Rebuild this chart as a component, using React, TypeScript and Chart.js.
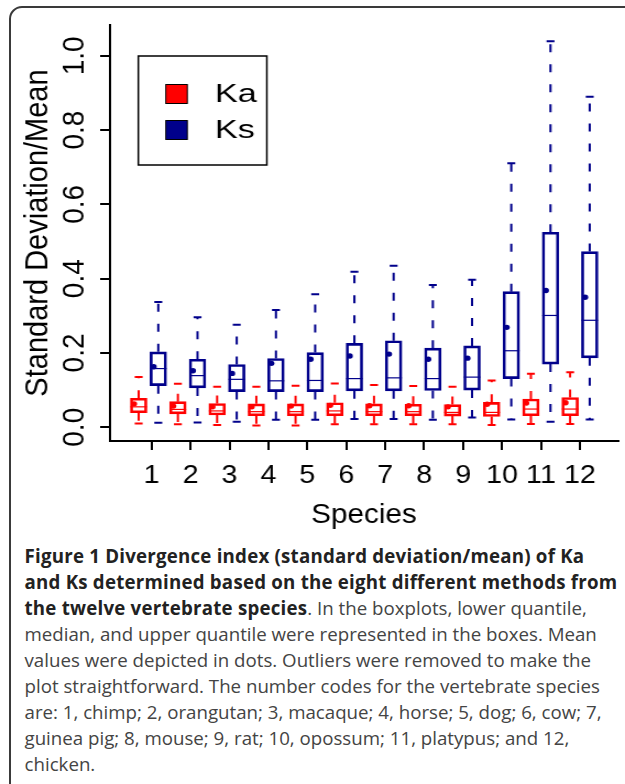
import React, { useEffect, useRef } from "react";
import { Chart, registerables } from "chart.js";

Chart.register(...registerables);

// ---------------- data ----------------
const species = ["1", "2", "3", "4", "5", "6", "7", "8", "9", "10", "11", "12"];
const yTicks = [0, 0.2, 0.4, 0.6, 0.8, 1.0];

const kaLow = [0.010, 0.008, 0.006, 0.005, 0.005, 0.008, 0.008, 0.008, 0.008, 0.006, 0.009, 0.009];
const kaQ1 = [0.039, 0.036, 0.033, 0.031, 0.031, 0.031, 0.031, 0.031, 0.030, 0.029, 0.031, 0.031];
const kaMedian = [0.055, 0.048, 0.044, 0.042, 0.042, 0.044, 0.042, 0.042, 0.040, 0.040, 0.049, 0.049];
const kaQ3 = [0.078, 0.069, 0.064, 0.063, 0.063, 0.066, 0.063, 0.062, 0.061, 0.067, 0.076, 0.080];
const kaHigh = [0.135, 0.117, 0.109, 0.109, 0.112, 0.118, 0.114, 0.111, 0.109, 0.126, 0.144, 0.148];
const kaMean = [0.063, 0.057, 0.055, 0.055, 0.057, 0.059, 0.058, 0.058, 0.055, 0.062, 0.065, 0.066];

const ksLow = [0.012, 0.013, 0.015, 0.020, 0.020, 0.022, 0.022, 0.020, 0.026, 0.021, 0.015, 0.021];
const ksQ1 = [0.112, 0.106, 0.096, 0.096, 0.096, 0.098, 0.098, 0.099, 0.100, 0.131, 0.170, 0.187];
const ksMedian = [0.158, 0.139, 0.129, 0.125, 0.126, 0.131, 0.133, 0.131, 0.135, 0.206, 0.301, 0.288];
const ksQ3 = [0.203, 0.183, 0.169, 0.185, 0.201, 0.226, 0.233, 0.213, 0.219, 0.365, 0.525, 0.473];
const ksHigh = [0.337, 0.296, 0.276, 0.316, 0.358, 0.419, 0.435, 0.383, 0.397, 0.711, 1.039, 0.890];
const ksMean = [0.163, 0.152, 0.145, 0.172, 0.183, 0.192, 0.197, 0.183, 0.186, 0.269, 0.368, 0.350];

const captionLines: { bold?: string; text?: string }[] = [
  { bold: "Figure 1 Divergence index (standard deviation/mean) of Ka" },
  { bold: "and Ks determined based on the eight different methods from" },
  { bold: "the twelve vertebrate species", text: ". In the boxplots, lower quantile," },
  { text: "median, and upper quantile were represented in the boxes. Mean" },
  { text: "values were depicted in dots. Outliers were removed to make the" },
  { text: "plot straightforward. The number codes for the vertebrate species" },
  { text: "are: 1, chimp; 2, orangutan; 3, macaque; 4, horse; 5, dog; 6, cow; 7," },
  { text: "guinea pig; 8, mouse; 9, rat; 10, opossum; 11, platypus; and 12," },
  { text: "chicken." },
];

// ---------------- style / layout ----------------
const KA_COLOR = "#FF0000";
const KS_COLOR = "#00008B";
const FONT = "'Liberation Sans', Arial, Helvetica, sans-serif";
const CANVAS_W = 568; // internal width, stretched to 625 css px
const CANVAS_H = 540;
const BOX_PX = 15;
const STAPLE_HALF = 3.6;
const MEAN_SHIFT = -0.23;
const TICK_START = 1.663;
const TICK_STEP = 1.985;

const series = [
  { label: "Ka", color: KA_COLOR, low: kaLow, q1: kaQ1, med: kaMedian, q3: kaQ3, high: kaHigh, mean: kaMean },
  { label: "Ks", color: KS_COLOR, low: ksLow, q1: ksQ1, med: ksMedian, q3: ksQ3, high: ksHigh, mean: ksMean },
];
const boxPos = (s: number, i: number) => 2 * i + 1 + s;

const boxPlugin = {
  id: "boxWhiskers",
  beforeDatasetsDraw(chart: any) {
    const { ctx } = chart;
    const x = chart.scales.x;
    const y = chart.scales.y;
    ctx.save();
    series.forEach((s, si) => {
      ctx.strokeStyle = s.color;
      s.q1.forEach((_q: number, i: number) => {
        const px = x.getPixelForValue(boxPos(si, i));
        const yLow = y.getPixelForValue(s.low[i]);
        const yQ1 = y.getPixelForValue(s.q1[i]);
        const yMed = y.getPixelForValue(s.med[i]);
        const yQ3 = y.getPixelForValue(s.q3[i]);
        const yHigh = y.getPixelForValue(s.high[i]);
        // whiskers
        ctx.lineWidth = 2;
        ctx.lineCap = "butt";
        ctx.setLineDash([8, 12]);
        ctx.beginPath();
        ctx.moveTo(px, yQ3);
        ctx.lineTo(px, yHigh);
        ctx.moveTo(px, yQ1);
        ctx.lineTo(px, yLow);
        ctx.stroke();
        // staples
        ctx.setLineDash([]);
        ctx.beginPath();
        ctx.moveTo(px - STAPLE_HALF, yHigh);
        ctx.lineTo(px + STAPLE_HALF, yHigh);
        ctx.moveTo(px - STAPLE_HALF, yLow);
        ctx.lineTo(px + STAPLE_HALF, yLow);
        ctx.stroke();
        // median
        ctx.lineWidth = 1.2;
        ctx.beginPath();
        ctx.moveTo(px - BOX_PX / 2, yMed);
        ctx.lineTo(px + BOX_PX / 2, yMed);
        ctx.stroke();
      });
    });
    ctx.restore();
  },
  afterDraw(chart: any) {
    const { ctx, chartArea } = chart;
    const y = chart.scales.y;
    ctx.save();
    // rotated y tick labels (R style)
    ctx.fillStyle = "#000";
    ctx.font = `28px ${FONT}`;
    ctx.textAlign = "center";
    ctx.textBaseline = "middle";
    yTicks.forEach((v) => {
      const py = y.getPixelForValue(v);
      ctx.save();
      ctx.translate(68.5, py);
      ctx.rotate(-Math.PI / 2);
      ctx.fillText(v.toFixed(1), 0, 0);
      ctx.restore();
    });
    // legend box
    const lx = chartArea.left + 25.7;
    const ly = chartArea.top + 31;
    const lw = 116.8;
    const lh = 109;
    ctx.lineWidth = 1.5;
    ctx.strokeStyle = "#000";
    ctx.strokeRect(lx, ly, lw, lh);
    const rows = [ly + 38, ly + 74];
    series.forEach((s, si) => {
      const ry = rows[si];
      ctx.fillStyle = s.color;
      ctx.fillRect(lx + 25, ry - 9.5, 19.5, 19);
      ctx.lineWidth = 1;
      ctx.strokeStyle = "#000";
      ctx.strokeRect(lx + 25, ry - 9.5, 19.5, 19);
      ctx.save();
      ctx.translate(lx + 69.5, ry + 1.5);
      ctx.scale(1.25, 1);
      ctx.fillStyle = "#000";
      ctx.font = `25px ${FONT}`;
      ctx.textAlign = "left";
      ctx.textBaseline = "middle";
      ctx.fillText(s.label, 0, 0);
      ctx.restore();
    });
    ctx.restore();
  },
};

function buildConfig(): any {
  return {
    type: "bar",
    data: {
      datasets: [
        ...series.map((s, si) => ({
          type: "scatter",
          label: s.label + " mean",
          data: s.mean.map((m: number, i: number) => ({ x: boxPos(si, i) + MEAN_SHIFT, y: m })),
          backgroundColor: s.color,
          borderColor: s.color,
          pointRadius: 2.7,
          pointBorderWidth: 0,
          pointHoverRadius: 2.7,
        })),
        ...series.map((s, si) => ({
          type: "bar",
          label: s.label,
          data: s.q1.map((q: number, i: number) => ({ x: boxPos(si, i), y: [q, s.q3[i]] })),
          backgroundColor: "rgba(0,0,0,0)",
          borderColor: s.color,
          borderWidth: 2,
          borderSkipped: false,
          barThickness: BOX_PX,
          stack: "box",
        })),
      ],
    },
    options: {
      responsive: false,
      maintainAspectRatio: false,
      animation: false,
      devicePixelRatio: 1,
      events: [],
      layout: { padding: { left: 0, right: 6.4, top: 25, bottom: 0 } },
      plugins: {
        legend: { display: false },
        tooltip: { enabled: false },
        title: { display: false },
      },
      scales: {
        x: {
          type: "linear",
          min: -0.46,
          max: 25.44,
          offset: false,
          afterBuildTicks: (s: any) => {
            s.ticks = species.map((_l, i) => ({ value: TICK_START + i * TICK_STEP }));
          },
          afterFit: (s: any) => {
            s.height = 99;
          },
          grid: { display: true, drawOnChartArea: false, drawTicks: true, tickLength: 9, color: "#000", lineWidth: 2, offset: false },
          border: { display: true, color: "#000", width: 2 },
          ticks: {
            autoSkip: false,
            maxRotation: 0,
            minRotation: 0,
            padding: 10.7,
            color: "#000",
            font: { size: 26, family: FONT, lineHeight: 1.2 },
            callback: (_v: any, i: number) => species[i],
          },
          title: {
            display: true,
            text: "Species",
            color: "#000",
            font: { size: 27, family: FONT, lineHeight: 1.2 },
            padding: { top: 0, bottom: 8.5 },
          },
        },
        y: {
          type: "linear",
          min: -0.037,
          max: 1.083,
          stacked: false,
          afterBuildTicks: (s: any) => {
            s.ticks = yTicks.map((v) => ({ value: v }));
          },
          afterFit: (s: any) => {
            s.width = 100;
          },
          grid: { display: true, drawOnChartArea: false, drawTicks: true, tickLength: 9, color: "#000", lineWidth: 2 },
          border: { display: true, color: "#000", width: 2 },
          ticks: { display: false },
          title: {
            display: true,
            text: "Standard Deviation/Mean",
            color: "#000",
            font: { size: 29, family: FONT, lineHeight: 1.2 },
            padding: { top: 17.35, bottom: 0 },
          },
        },
      },
    },
    plugins: [boxPlugin],
  };
}

export default function App() {
  const ref = useRef<HTMLCanvasElement>(null);
  useEffect(() => {
    if (!ref.current) return;
    const chart = new Chart(ref.current, buildConfig());
    return () => chart.destroy();
  }, []);
  return (
    <div style={{ position: "absolute", left: 0, top: 0, width: 625, height: 784, overflow: "hidden", background: "#fff" }}>
      <div
        style={{
          position: "absolute",
          left: 9,
          top: 6,
          width: 800,
          height: 900,
          border: "2px solid #3a3a3a",
          borderTopLeftRadius: 13,
          boxSizing: "border-box",
        }}
      />
      <canvas
        ref={ref}
        width={CANVAS_W}
        height={CANVAS_H}
        style={{ position: "absolute", left: 0, top: 0, width: 625, height: CANVAS_H }}
      />
      <div
        style={{
          position: "absolute",
          left: 24.5,
          top: 542.5,
          fontFamily: "'Open Sans', Lato, sans-serif",
          fontSize: 18.7,
          lineHeight: "26px",
          color: "#444",
          whiteSpace: "nowrap",
        }}
      >
        {captionLines.map((l, i) => (
          <div key={i}>
            {l.bold ? <span style={{ fontWeight: 700, color: "#222", letterSpacing: "0.22px" }}>{l.bold}</span> : null}
            {l.text ? <span>{l.text}</span> : null}
          </div>
        ))}
      </div>
    </div>
  );
}
